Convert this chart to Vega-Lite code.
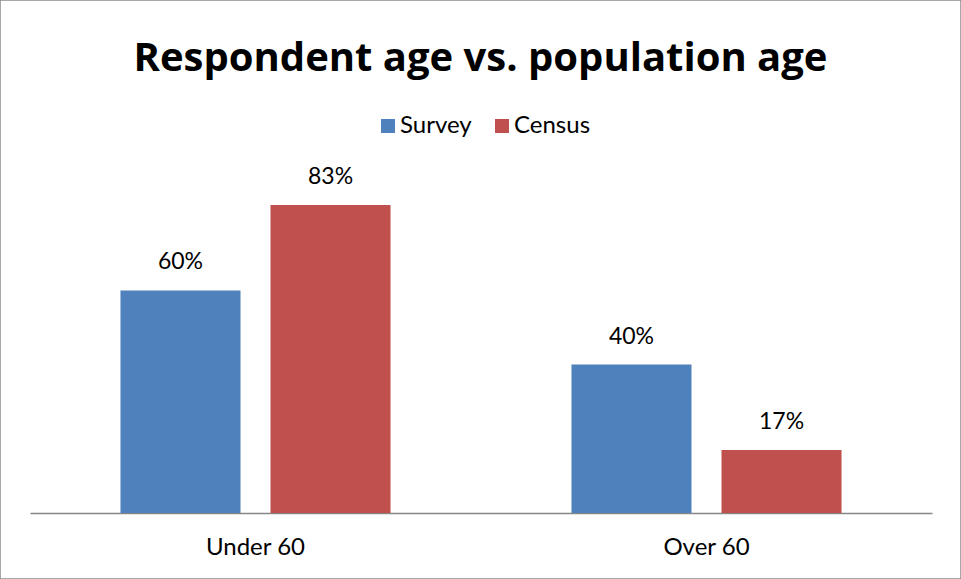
{
  "$schema": "https://vega.github.io/schema/vega-lite/v6.json",
  "autosize": "none",
  "padding": 0,
  "width": 961,
  "height": 579,
  "background": "white",
  "title": {
    "text": "Respondent age vs. population age",
    "font": "Open Sans",
    "fontSize": 40,
    "fontWeight": "bold",
    "color": "black",
    "anchor": "middle",
    "baseline": "alphabetic",
    "offset": 0,
    "dy": 111
  },
  "config": {
    "view": {"stroke": "#8c8c8c", "strokeWidth": 1.5},
    "font": "Lato"
  },
  "data": {
    "values": [
      {"group": "Under 60", "series": "Survey", "value": 0.60},
      {"group": "Under 60", "series": "Census", "value": 0.83},
      {"group": "Over 60", "series": "Survey", "value": 0.40},
      {"group": "Over 60", "series": "Census", "value": 0.17}
    ]
  },
  "encoding": {
    "x": {
      "field": "group",
      "type": "nominal",
      "sort": ["Under 60", "Over 60"],
      "scale": {"range": [30, 932], "paddingInner": 0, "paddingOuter": 0},
      "axis": {
        "title": null,
        "labelAngle": 0,
        "labelFont": "Lato",
        "labelFontSize": 24,
        "labelColor": "black",
        "labelPadding": 22,
        "ticks": false,
        "domainColor": "#868686",
        "domainWidth": 1.5,
        "offset": -66
      }
    },
    "xOffset": {
      "field": "series",
      "type": "nominal",
      "sort": ["Survey", "Census"],
      "scale": {"paddingInner": 0.2, "paddingOuter": 0.603}
    },
    "y": {
      "field": "value",
      "type": "quantitative",
      "scale": {"domain": [0, 1], "range": [513, 142]},
      "axis": null
    }
  },
  "layer": [
    {
      "mark": {"type": "bar"},
      "encoding": {
        "color": {
          "field": "series",
          "type": "nominal",
          "sort": ["Survey", "Census"],
          "scale": {"domain": ["Survey", "Census"], "range": ["#4F81BD", "#C0504D"]},
          "legend": {
            "title": null,
            "orient": "none",
            "direction": "horizontal",
            "legendX": 376,
            "legendY": 114,
            "symbolType": "square",
            "symbolSize": 196,
            "symbolStrokeWidth": 0,
            "labelFont": "Lato",
            "labelFontSize": 24,
            "labelColor": "black",
            "columnPadding": 18,
            "labelOffset": 0
          }
        }
      }
    },
    {
      "mark": {"type": "text", "baseline": "bottom", "dy": -16, "fontSize": 23, "font": "Lato", "color": "black"},
      "encoding": {
        "text": {"field": "value", "type": "quantitative", "format": ".0%"}
      }
    }
  ]
}
